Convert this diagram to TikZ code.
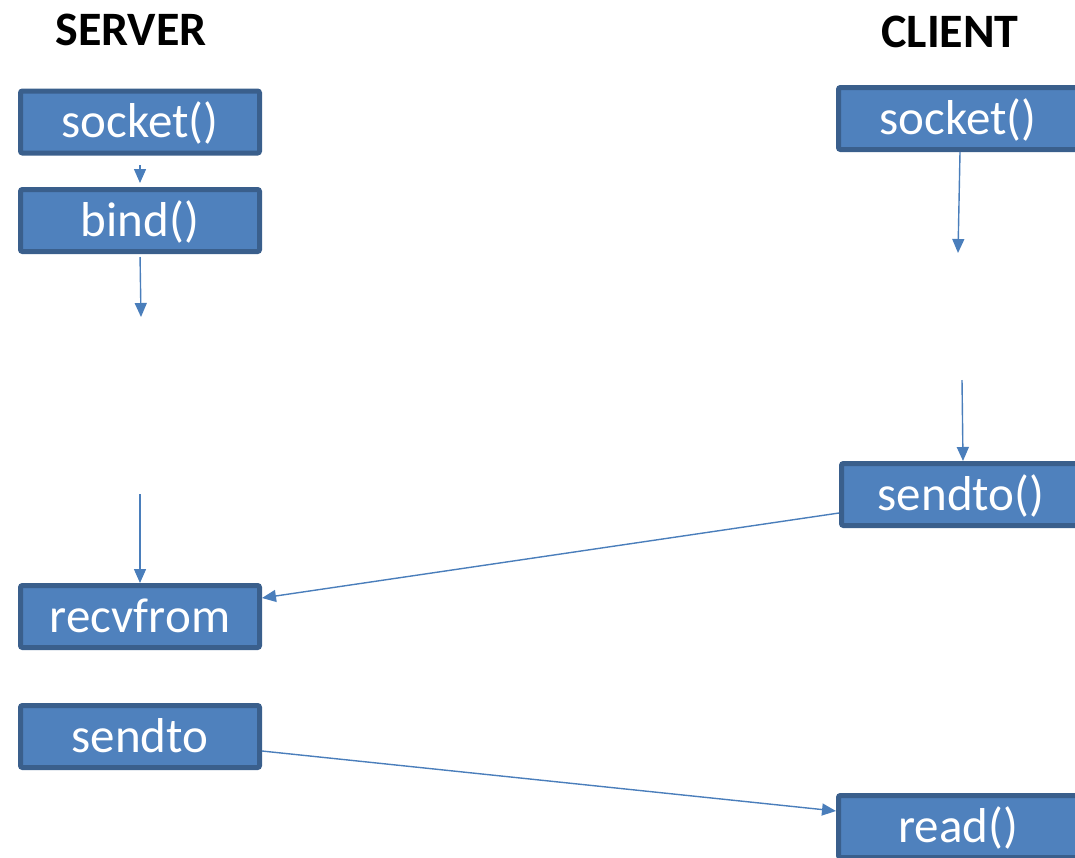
\documentclass[tikz,border=0pt]{standalone}
\usepackage{fontspec}
\setmainfont{Carlito}
\usetikzlibrary{arrows.meta}
\definecolor{boxfill}{HTML}{4F81BD}
\definecolor{boxline}{HTML}{3A5F8C}
\definecolor{arr}{HTML}{4A7EBB}
\begin{document}
\begin{tikzpicture}[x=1pt,y=-1pt,
  fbox/.style={draw=boxline, fill=boxfill, line width=5pt, rounded corners=2pt,
    minimum width=239pt, minimum height=62pt, inner sep=0pt, text=white,
    text height=40pt, text depth=9pt,
    font=\fontsize{49}{52}\selectfont},
  conn/.style={draw=arr, line width=1.4pt, -{Triangle[length=14pt,width=12pt]}},
  head/.style={font=\bfseries\fontsize{48}{50}\selectfont, inner sep=0pt}]
\useasboundingbox (0,0) rectangle (1075,857);
\clip (0,0) rectangle (1075,857);
\node[head] (hs) at (131,30) {SERVER};
\node[head] (hc) at (950,32) {CLIENT};
\node[fbox] (ss) at (140,122) {socket()};
\node[fbox] (sb) at (140,220.5) {bind()};
\node[fbox] (sr) at (140,616.5) {recvfrom};
\node[fbox] (sd) at (140,736.5) {sendto};
\node[fbox] (cs) at (958,118.5) {socket()};
\node[fbox] (cd) at (961,494.5) {sendto()};
\node[fbox] (cr) at (958,826.5) {read()};
\coordinate (a1) at (140,165);
\coordinate (a2) at (141,317);
\coordinate (a3) at (140,494);
\coordinate (a4) at (958,253);
\coordinate (a5) at (962,380);
\draw[conn, shorten >=4pt] (a1) -- (sb.north);
\draw[conn, shorten <=3pt] (sb.south) -- (a2);
\draw[conn] (a3) -- (sr.north);
\draw[conn] ([xshift=2pt]cs.south) -- (a4);
\draw[conn] (a5) -- ([xshift=2pt]cd.north);
\draw[conn] ([yshift=-18.5pt]cd.west) -- ([yshift=18.5pt]sr.east);
\draw[conn] ([yshift=-14.5pt]sd.east) -- ([yshift=15.5pt]cr.west);
\end{tikzpicture}
\end{document}
